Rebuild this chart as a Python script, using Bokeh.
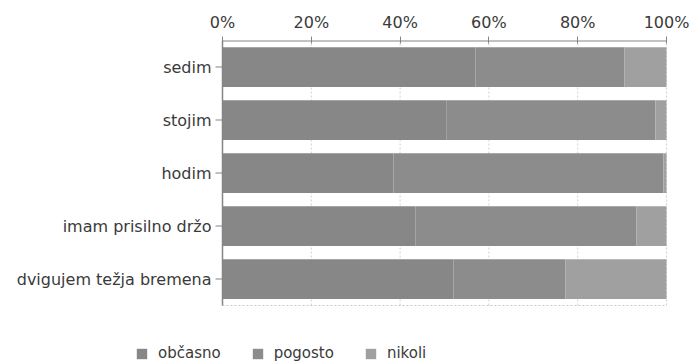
from bokeh.plotting import figure
from bokeh.models import (Range1d, FixedTicker, CustomJSTickFormatter,
                          Legend, LegendItem, ColumnDataSource)
from bokeh.core.properties import value
from bokeh.embed import file_html
from bokeh.resources import INLINE

# Activities (top to bottom) and the share of answers per frequency, in percent
activities = ["sedim", "stojim", "hodim", "imam prisilno držo", "dvigujem težja bremena"]
obcasno = [57.0, 50.5, 38.5, 43.5, 52.0]
pogosto = [33.5, 47.0, 60.8, 49.7, 25.2]
nikoli = [9.5, 2.5, 0.7, 6.8, 22.8]

series = ["občasno", "pogosto", "nikoli"]
keys = ["obcasno", "pogosto", "nikoli"]
colors = ["#878787", "#8c8c8c", "#a0a0a0"]
x_ticks = [0, 20, 40, 60, 80, 100]

FONT = "DejaVu Sans"
TEXT = "#3a3a3a"
AXIS = "#858585"

n = len(activities)
# one unit per category row, first activity on top
ypos = [n - 0.5 - i for i in range(n)]

W, H = 691, 362
LEFT, RIGHT, TOP = 222, 666, 40      # pixel edges of the bar area
ROW = 53                             # pixels per category row
px = 100 / (RIGHT - LEFT)            # percent per pixel
bottom_units = (H - TOP - n * ROW) / ROW

source = ColumnDataSource(dict(y=ypos, obcasno=obcasno, pogosto=pogosto, nikoli=nikoli))

p = figure(width=W, height=H, output_backend="svg", toolbar_location=None,
           x_range=Range1d(-LEFT * px, (W - LEFT) * px),
           y_range=Range1d(-bottom_units, n),
           x_axis_location="above", y_axis_location=None,
           min_border_left=0, min_border_right=0, min_border_top=TOP, min_border_bottom=0)
p.grid.visible = False
p.outline_line_color = None
p.background_fill_color = "white"
p.border_fill_color = "white"

# dotted vertical gridlines and frame edges of the bar area
p.segment(x0=x_ticks[1:], y0=0, x1=x_ticks[1:], y1=n, line_color="#d0d0d0",
          line_dash="2 2", line_width=1)
p.segment(x0=[0], y0=[0], x1=[100], y1=[0], line_color="#c8c8c8",
          line_dash="2 2", line_width=1)

renderers = p.hbar_stack(keys, y="y", height=0.75, color=colors,
                         line_color=None, source=source)

# category axis drawn by hand so the legend can sit below it at full width
p.segment(x0=[0], y0=[0], x1=[0], y1=[n], line_color=AXIS, line_width=1.5)
p.segment(x0=[-7 * px] * n, y0=ypos, x1=[0] * n, y1=ypos, line_color=AXIS, line_width=1.2)
p.text(x=[-11 * px] * n, y=ypos, text=activities, text_align="right",
       text_baseline="middle", text_font=value(FONT), text_font_size="16px",
       text_color=TEXT)

# top percent axis
xa = p.xaxis[0]
xa.ticker = FixedTicker(ticks=x_ticks)
xa.formatter = CustomJSTickFormatter(code="return tick.toFixed(0) + '%';")
xa.axis_line_color = None
xa.major_tick_line_color = AXIS
xa.major_tick_in = 3
xa.major_tick_out = 4
xa.minor_tick_line_color = None
xa.major_label_standoff = 5
xa.major_label_text_font = FONT
xa.major_label_text_font_size = "16px"
xa.major_label_text_color = TEXT
p.segment(x0=[0], y0=[n], x1=[100], y1=[n], line_color=AXIS, line_width=2)

legend = Legend(items=[LegendItem(label=s, renderers=[r]) for s, r in zip(series, renderers)],
                orientation="horizontal", location=(135, 0),
                glyph_width=13, glyph_height=13, label_standoff=10, spacing=30,
                padding=0, margin=0, label_height=18,
                label_text_font=FONT, label_text_font_size="15px",
                label_text_color=TEXT, border_line_alpha=0,
                background_fill_alpha=0)
p.add_layout(legend, "center")

open("out.html", "w").write(file_html(p, INLINE))
